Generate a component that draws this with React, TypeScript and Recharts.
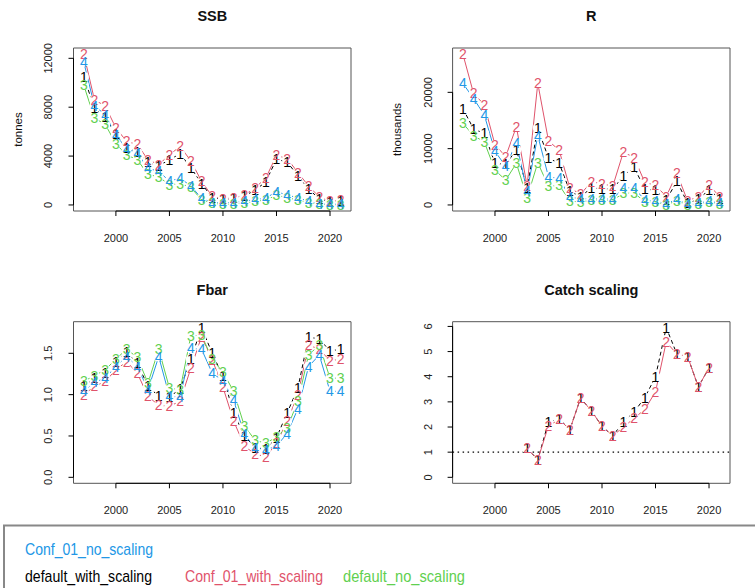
import React from "react"
import { LineChart, Line, XAxis, YAxis, ReferenceLine, ReferenceArea } from "recharts"

// years on the x axis
const years = [1997, 1998, 1999, 2000, 2001, 2002, 2003, 2004, 2005, 2006, 2007, 2008, 2009, 2010, 2011, 2012, 2013, 2014, 2015, 2016, 2017, 2018, 2019, 2020, 2021]
const catchYears = [2003, 2004, 2005, 2006, 2007, 2008, 2009, 2010, 2011, 2012, 2013, 2014, 2015, 2016, 2017, 2018, 2019, 2020]

// SSB (tonnes)
const ssbDefaultWithScaling = [10500, 7900, 7200, 5800, 4700, 4300, 3500, 3200, 3700, 4200, 3050, 1750, 600, 450, 550, 750, 1200, 1900, 3750, 3500, 2400, 1300, 500, 250, 350]
const ssbConfWithScaling = [12350, 8600, 8100, 6300, 5200, 4950, 3700, 3300, 4100, 4800, 3600, 1950, 700, 500, 600, 800, 1400, 2200, 4050, 3800, 2650, 1550, 650, 300, 400]
const ssbDefaultNoScaling = [9800, 7100, 6600, 5000, 4100, 3700, 2500, 2300, 1650, 1750, 1450, 400, 150, 50, 100, 150, 300, 400, 800, 600, 400, 200, 50, 20, 30]
const ssbConfNoScaling = [11700, 8100, 7400, 5700, 4600, 4250, 3000, 2750, 1950, 2200, 1550, 550, 200, 200, 200, 300, 450, 550, 1100, 800, 600, 300, 100, 50, 80]

// R (thousands)
const recDefaultWithScaling = [17100, 13500, 12700, 7400, 7200, 9800, 3000, 13700, 8300, 7400, 2400, 1500, 3000, 2900, 2800, 5200, 6700, 2800, 2600, 900, 4200, 300, 1000, 2700, 1100]
const recConfWithScaling = [26800, 19800, 17800, 10700, 8600, 13900, 3400, 21600, 11400, 9700, 3000, 1900, 4100, 3800, 3300, 9400, 8400, 4000, 3500, 1500, 5600, 700, 1500, 3500, 1500]
const recDefaultNoScaling = [14500, 12300, 11200, 6200, 4400, 7400, 1300, 7500, 3300, 3500, 700, 500, 900, 900, 800, 2100, 2100, 600, 500, 50, 700, 30, 200, 500, 200]
const recConfNoScaling = [21600, 18900, 16000, 9500, 6900, 11000, 2400, 12300, 5000, 4700, 1400, 1100, 1100, 1100, 1000, 3100, 3000, 900, 700, 200, 1000, 100, 300, 700, 300]

// Fbar
const fbarDefaultWithScaling = [1.10, 1.20, 1.26, 1.40, 1.52, 1.38, 1.10, 0.98, 0.97, 1.07, 1.43, 1.81, 1.50, 1.22, 0.78, 0.50, 0.36, 0.34, 0.48, 0.78, 1.08, 1.70, 1.67, 1.53, 1.55]
const fbarConfWithScaling = [1.00, 1.10, 1.16, 1.30, 1.40, 1.26, 0.98, 0.87, 0.86, 0.92, 1.32, 1.70, 1.42, 1.09, 0.68, 0.38, 0.28, 0.25, 0.41, 0.68, 1.00, 1.60, 1.55, 1.41, 1.43]
const fbarDefaultNoScaling = [1.16, 1.23, 1.30, 1.43, 1.55, 1.45, 1.14, 1.55, 1.08, 1.06, 1.71, 1.72, 1.43, 1.27, 1.04, 0.62, 0.45, 0.41, 0.49, 0.60, 0.92, 1.48, 1.60, 1.20, 1.20]
const fbarConfNoScaling = [1.04, 1.15, 1.20, 1.34, 1.46, 1.34, 1.06, 1.46, 0.98, 0.97, 1.56, 1.55, 1.26, 1.17, 0.93, 0.52, 0.36, 0.33, 0.38, 0.53, 0.83, 1.34, 1.48, 1.04, 1.04]

// catch scaling (only the two "with_scaling" runs)
const catchDefaultWithScaling = [1.15, 0.70, 2.20, 2.32, 1.90, 3.15, 2.65, 2.03, 1.65, 2.20, 2.60, 3.17, 4.00, 5.95, 4.90, 4.80, 3.60, 4.35]
const catchConfWithScaling = [1.15, 0.70, 2.05, 2.30, 1.90, 3.15, 2.65, 2.03, 1.65, 2.00, 2.35, 2.70, 3.40, 5.38, 4.90, 4.80, 3.60, 4.35]

const xTicks = [2000, 2005, 2010, 2015, 2020]

const SERIES = [
  { key: "s1", label: "1", color: "#000000", dash: "4 3" },
  { key: "s2", label: "2", color: "#DF536B", dash: undefined },
  { key: "s3", label: "3", color: "#61D04F", dash: undefined },
  { key: "s4", label: "4", color: "#2297E6", dash: undefined },
]

const FONT = '"Liberation Sans", Arial, sans-serif'

function buildRows(xs: number[], cols: number[][]) {
  return xs.map((year, i) => {
    const row: Record<string, number> = { year }
    cols.forEach((c, j) => { row[SERIES[j].key] = c[i] })
    return row
  })
}

// R style: 4% padding on each side
function pad(lo: number, hi: number): [number, number] {
  const d = (hi - lo) * 0.04
  return [lo - d, hi + d]
}

const xDomain = pad(years[0], years[years.length - 1])

// type="b" look: a small white disc cuts the lines around every point,
// then the digits go on top without hiding each other
function gapDot(p: any) {
  if (p.cx == null || p.cy == null || p.value == null) return <g key={`n-${p.index}`} />
  return <circle key={`g-${p.index}`} cx={p.cx} cy={p.cy} r={5} fill="#fff" stroke="none" />
}

function numberDot(label: string, color: string) {
  return (p: any) => {
    if (p.cx == null || p.cy == null || p.value == null) return <g key={`n-${p.index}`} />
    return (
      <text key={`d-${p.index}`} x={p.cx} y={p.cy + 5} textAnchor="middle" fontSize={14} fontFamily={FONT} fill={color}>
        {label}
      </text>
    )
  }
}

function YTick(props: any) {
  const { x, y, payload, fmt } = props
  const bx = x - 16
  return (
    <text x={bx} y={y} transform={`rotate(-90 ${bx} ${y})`} textAnchor="middle" fontSize={11} fontFamily={FONT} fill="#222">
      {fmt(payload.value)}
    </text>
  )
}

function XTick(props: any) {
  const { x, y, payload } = props
  return (
    <text x={x} y={y + 26} textAnchor="middle" fontSize={11} fontFamily={FONT} fill="#222">
      {payload.value}
    </text>
  )
}

interface PanelProps {
  left: number
  top: number
  width: number
  height: number
  margin: { top: number; right: number; bottom: number; left: number }
  xs: number[]
  cols: number[][]
  yTicks: number[]
  fmt: (v: number) => string
  dotted?: number
}

function Panel({ left, top, width, height, margin, xs, cols, yTicks, fmt, dotted }: PanelProps) {
  const rows = buildRows(xs, cols)
  const yMax = Math.max(...cols.flat())
  const yDomain = pad(0, yMax)
  const series = SERIES.slice(0, cols.length)
  return (
    <div style={{ position: "absolute", left, top }}>
      <LineChart width={width} height={height} data={rows} margin={margin}>
        <XAxis
          dataKey="year"
          type="number"
          domain={xDomain}
          ticks={xTicks}
          interval={0}
          allowDataOverflow
          axisLine={false}
          tickLine={{ stroke: "#000" }}
          tickSize={5}
          tickMargin={0}
          height={30}
          tick={<XTick />}
        />
        <YAxis
          type="number"
          domain={yDomain}
          ticks={yTicks}
          interval={0}
          allowDataOverflow
          axisLine={false}
          tickLine={{ stroke: "#000" }}
          tickSize={5}
          tickMargin={0}
          width={40}
          tick={<YTick fmt={fmt} />}
        />
        <ReferenceArea x1={xDomain[0]} x2={xDomain[1]} y1={yDomain[0]} y2={yDomain[1]} fill="none" stroke="#555" ifOverflow="visible" />
        <ReferenceLine
          segment={[{ x: xDomain[0], y: yTicks[0] }, { x: xDomain[0], y: yTicks[yTicks.length - 1] }]}
          stroke="#000"
          ifOverflow="visible"
        />
        <ReferenceLine
          segment={[{ x: xTicks[0], y: yDomain[0] }, { x: xTicks[xTicks.length - 1], y: yDomain[0] }]}
          stroke="#000"
          ifOverflow="visible"
        />
        {dotted != null && (
          <ReferenceLine y={dotted} stroke="#000" strokeWidth={1.3} strokeDasharray="1.5 3.5" />
        )}
        {series.map((s) => (
          <Line
            key={`line-${s.key}`}
            dataKey={s.key}
            type="linear"
            stroke={s.color}
            strokeWidth={1}
            strokeDasharray={s.dash}
            dot={false}
            activeDot={false}
            isAnimationActive={false}
          />
        ))}
        {series.map((s) => (
          <Line
            key={`gap-${s.key}`}
            dataKey={s.key}
            type="linear"
            stroke="none"
            dot={gapDot}
            activeDot={false}
            isAnimationActive={false}
          />
        ))}
        {series.map((s) => (
          <Line
            key={`num-${s.key}`}
            dataKey={s.key}
            type="linear"
            stroke="none"
            dot={numberDot(s.label, s.color)}
            activeDot={false}
            isAnimationActive={false}
          />
        ))}
      </LineChart>
    </div>
  )
}

const thousands = (v: number) => String(v)
const oneDecimal = (v: number) => v.toFixed(1)

export default function App() {
  return (
    <div style={{ position: "absolute", left: 0, top: 0, width: 755, height: 588, overflow: "hidden", background: "#fff" }}>
      <Panel
        left={0} top={0} width={375} height={260}
        margin={{ top: 48, right: 24, bottom: 19, left: 33.5 }}
        xs={years}
        cols={[ssbDefaultWithScaling, ssbConfWithScaling, ssbDefaultNoScaling, ssbConfNoScaling]}
        yTicks={[0, 4000, 8000, 12000]}
        fmt={thousands}
      />
      <Panel
        left={375} top={0} width={380} height={260}
        margin={{ top: 48, right: 25, bottom: 19, left: 37.6 }}
        xs={years}
        cols={[recDefaultWithScaling, recConfWithScaling, recDefaultNoScaling, recConfNoScaling]}
        yTicks={[0, 10000, 20000]}
        fmt={thousands}
      />
      <Panel
        left={0} top={270} width={375} height={250}
        margin={{ top: 51.7, right: 24, bottom: 6.7, left: 33.5 }}
        xs={years}
        cols={[fbarDefaultWithScaling, fbarConfWithScaling, fbarDefaultNoScaling, fbarConfNoScaling]}
        yTicks={[0, 0.5, 1, 1.5]}
        fmt={oneDecimal}
      />
      <Panel
        left={375} top={270} width={380} height={250}
        margin={{ top: 51.7, right: 25, bottom: 6.7, left: 37.6 }}
        xs={catchYears}
        cols={[catchDefaultWithScaling, catchConfWithScaling]}
        yTicks={[0, 1, 2, 3, 4, 5, 6]}
        fmt={(v) => String(v)}
        dotted={1}
      />

      <svg width={755} height={588} style={{ position: "absolute", left: 0, top: 0, pointerEvents: "none" }} fontFamily={FONT}>
        <g fontWeight="bold" fontSize={14.5} textAnchor="middle" fill="#111">
          <text x={212.3} y={20.5}>SSB</text>
          <text x={591.3} y={20.5}>R</text>
          <text x={212.3} y={295}>Fbar</text>
          <text x={591.3} y={295}>Catch scaling</text>
        </g>
        <g fontSize={11.5} textAnchor="middle" fill="#111">
          <text x={21.7} y={129.5} transform="rotate(-90 21.7 129.5)">tonnes</text>
          <text x={400.5} y={129.5} transform="rotate(-90 400.5 129.5)">thousands</text>
        </g>
        <rect x={4} y={525.5} width={800} height={100} fill="none" stroke="#888" strokeWidth={2} />
        <g fontSize={17}>
          <text x={25} y={555} fill="#2297E6" textLength={128} lengthAdjust="spacingAndGlyphs">Conf_01_no_scaling</text>
          <text x={25} y={581.5} fill="#000" textLength={127} lengthAdjust="spacingAndGlyphs">default_with_scaling</text>
          <text x={185} y={581.5} fill="#DF536B" textLength={138} lengthAdjust="spacingAndGlyphs">Conf_01_with_scaling</text>
          <text x={343} y={581.5} fill="#61D04F" textLength={122} lengthAdjust="spacingAndGlyphs">default_no_scaling</text>
        </g>
      </svg>
    </div>
  )
}
